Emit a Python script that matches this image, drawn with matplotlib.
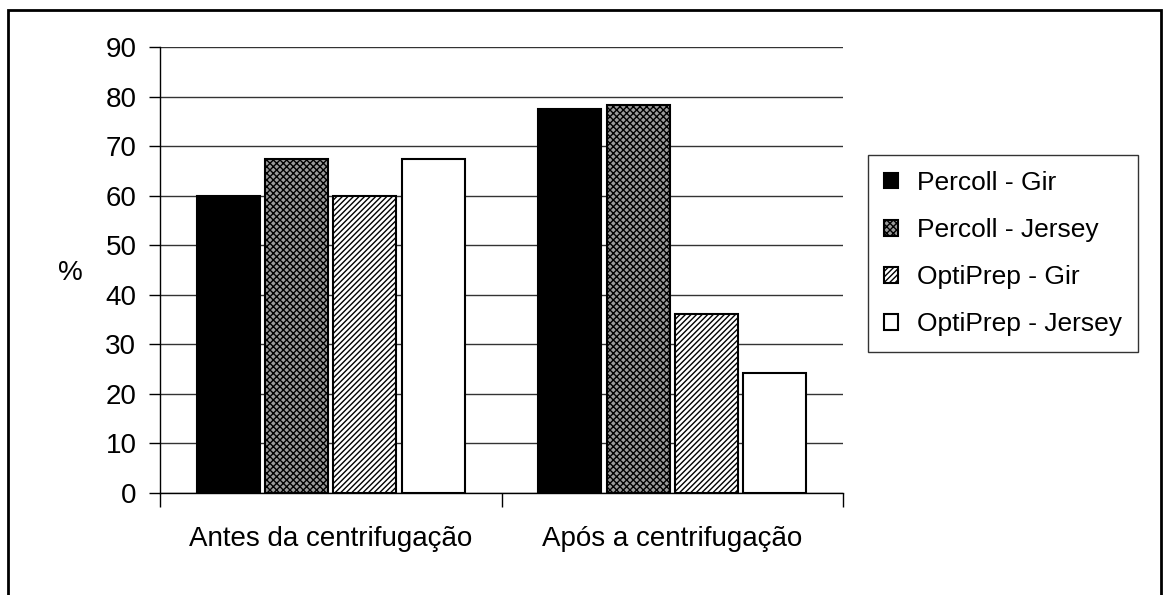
import matplotlib.pyplot as plt
import matplotlib.patches as mpatches
import numpy as np

# dados
categorias = ['Antes da centrifugação', 'Após a centrifugação']
series = ['Percoll - Gir', 'Percoll - Jersey', 'OptiPrep - Gir', 'OptiPrep - Jersey']
percoll_gir = [60.0, 77.5]
percoll_jersey = [67.3, 78.2]
optiprep_gir = [60.0, 36.1]
optiprep_jersey = [67.3, 24.3]
yticks = list(range(0, 91, 10))

plt.rcParams['font.family'] = 'Liberation Sans'
plt.rcParams['hatch.linewidth'] = 1.0

FS = 20

fig = plt.figure(figsize=(11.64, 5.95), dpi=100)
ax = fig.add_axes([160 / 1164, 1 - 493 / 595, 683 / 1164, 446 / 595])

# moldura externa
fig.patches.append(mpatches.Rectangle((8 / 1164, -0.05), 1153 / 1164, 1.05 - 10 / 595,
                                      transform=fig.transFigure, fill=False,
                                      edgecolor='black', linewidth=2))

x = np.arange(len(categorias))
w = 0.185
estilos = [
    dict(facecolor='black', hatch=None),
    dict(facecolor='#9a9a9a', hatch='xxxxx'),
    dict(facecolor='white', hatch='//////'),
    dict(facecolor='white', hatch=None),
]
valores = [percoll_gir, percoll_jersey, optiprep_gir, optiprep_jersey]
offsets = [-0.3, -0.1, 0.1, 0.3]
for vals, off, st, nome in zip(valores, offsets, estilos, series):
    ax.bar(x + off, vals, width=w, label=nome, edgecolor='black', linewidth=1.5,
           zorder=3, **st)

ax.set_xlim(-0.5, 1.5)
ax.set_ylim(0, 90)
ax.set_yticks(yticks)
ax.tick_params(axis='y', labelsize=FS, length=8, width=1, pad=9)
ax.set_xticks(x)
ax.set_xticklabels(categorias, fontsize=FS)
ax.tick_params(axis='x', length=0, pad=24)
ax.set_xticks([-0.5, 0.5, 1.5], minor=True)
ax.tick_params(axis='x', which='minor', length=10, width=1)
ax.yaxis.grid(True, color='#333333', linewidth=1)
ax.set_axisbelow(True)
for s in ['top', 'right']:
    ax.spines[s].set_visible(False)
ax.spines['left'].set_linewidth(1)
ax.spines['bottom'].set_linewidth(1)

fig.text(70 / 1164, 1 - 273 / 595, '%', fontsize=FS, ha='center', va='center')

leg = ax.legend(loc='upper left', bbox_to_anchor=(868 / 1164, 1 - 155 / 595),
                bbox_transform=fig.transFigure, fontsize=19, frameon=True,
                fancybox=False, edgecolor='black', handlelength=0.55,
                handleheight=0.55, handletextpad=0.7, labelspacing=0.88,
                borderpad=0.6, borderaxespad=0)
leg.get_frame().set_linewidth(1)

fig.savefig('out.png', dpi=100)
